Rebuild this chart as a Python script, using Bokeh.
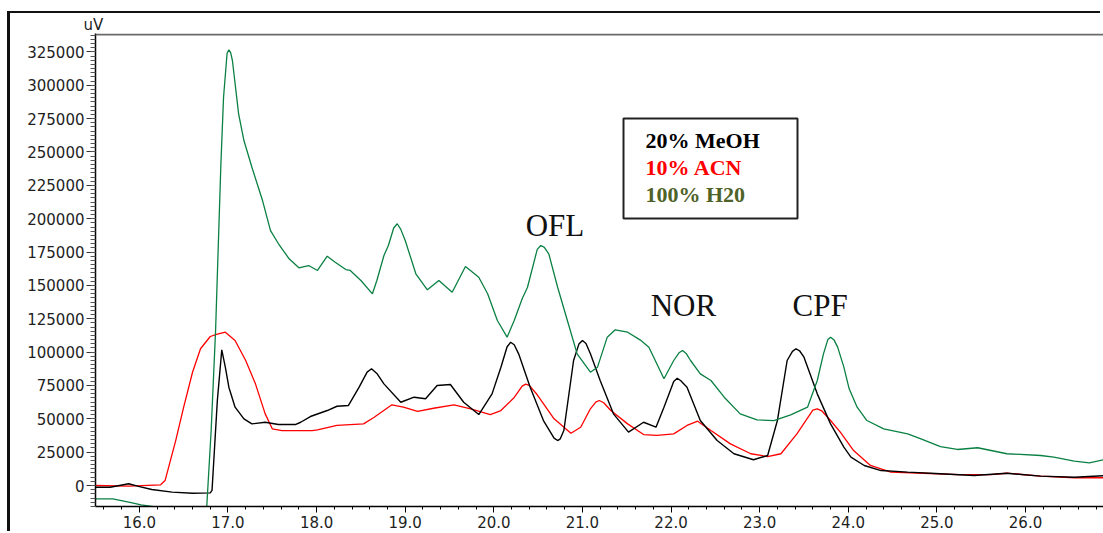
from bokeh.plotting import figure
from bokeh.models import (Range1d, SingleIntervalTicker, NumeralTickFormatter, LinearAxis,
                          BoxAnnotation, Label, Span, Title)
from bokeh.embed import file_html
from bokeh.resources import INLINE

# Retention time (min) and detector response (uV) for each eluent
t_meoh = [15.50, 15.67, 15.88, 15.99, 16.14, 16.37, 16.60, 16.80, 16.82, 16.88, 16.93, 16.97,
          17.01, 17.08, 17.18, 17.27, 17.42, 17.57, 17.76, 17.82, 17.93, 18.12, 18.23, 18.36,
          18.48, 18.57, 18.62, 18.68, 18.76, 18.95, 19.10, 19.23, 19.36, 19.51, 19.66, 19.83,
          19.98, 20.08, 20.15, 20.19, 20.23, 20.28, 20.41, 20.56, 20.68, 20.72, 20.75, 20.79,
          20.90, 20.96, 21.00, 21.04, 21.09, 21.20, 21.35, 21.52, 21.69, 21.83, 21.92, 22.03,
          22.07, 22.11, 22.18, 22.33, 22.52, 22.71, 22.93, 23.09, 23.20, 23.31, 23.37, 23.41,
          23.45, 23.50, 23.65, 23.80, 23.95, 24.03, 24.18, 24.37, 24.67, 25.04, 25.42, 25.79,
          26.17, 26.55, 26.88]
v_meoh = [-1300, -1300, 1300, -700, -3000, -5000, -5800, -5500, -3700, 63700, 101700, 88700,
          73700, 58700, 50000, 46200, 47400, 45700, 45700, 47400, 51700, 56200, 59400, 60000,
          73700, 85000, 87500, 84000, 76200, 62400, 66200, 65000, 75000, 75700, 62400, 53200,
          68700, 88700, 104000, 107400, 105500, 98700, 73700, 48700, 35500, 33700, 35000, 41200,
          93700, 106000, 108700, 106500, 98700, 78700, 53700, 40000, 47400, 43700, 58700, 78000,
          80400, 78500, 73700, 48700, 33700, 23800, 19300, 22500, 48700, 93700, 100500, 102500,
          101000, 96200, 68700, 46200, 28700, 21200, 15000, 11200, 10000, 8800, 7500, 9200,
          7000, 6200, 7300]

t_acn = [15.50, 15.88, 16.24, 16.29, 16.41, 16.50, 16.60, 16.69, 16.80, 16.88, 16.97, 17.08,
         17.20, 17.31, 17.42, 17.50, 17.61, 17.95, 18.01, 18.23, 18.53, 18.65, 18.85, 18.98,
         19.14, 19.32, 19.55, 19.74, 19.96, 20.08, 20.23, 20.32, 20.36, 20.40, 20.49, 20.68,
         20.87, 20.98, 21.09, 21.15, 21.19, 21.24, 21.32, 21.51, 21.69, 21.84, 22.03, 22.18,
         22.30, 22.45, 22.67, 22.90, 23.09, 23.24, 23.42, 23.60, 23.65, 23.70, 23.80, 23.91,
         24.06, 24.25, 24.48, 24.85, 25.23, 25.61, 25.79, 26.17, 26.55, 26.88]
v_acn = [0, -500, 500, 3700, 33700, 58700, 84900, 102500, 111700, 113500, 114900, 108700,
         93700, 76200, 53700, 42500, 41200, 41200, 41700, 45000, 46200, 51200, 60500, 58700,
         55500, 57900, 60500, 57500, 53200, 56200, 66000, 74500, 76000, 75000, 68000, 50000,
         39200, 43700, 57500, 62500, 63700, 62000, 56200, 46200, 38200, 37500, 38700, 45000,
         48200, 41200, 31200, 23800, 21700, 23800, 38700, 56500, 57500, 56000, 48700, 40000,
         26200, 15000, 10000, 9200, 8200, 8200, 9200, 7000, 5800, 5800]

t_h2o = [15.50, 15.70, 15.88, 16.02, 16.18, 16.50, 16.76, 16.81, 16.86, 16.92, 16.95, 16.99,
         17.01, 17.03, 17.05, 17.12, 17.18, 17.27, 17.39, 17.48, 17.57, 17.69, 17.80, 17.91,
         18.01, 18.12, 18.21, 18.33, 18.38, 18.50, 18.63, 18.68, 18.76, 18.81, 18.87, 18.91,
         18.95, 19.00, 19.12, 19.25, 19.38, 19.53, 19.68, 19.83, 19.93, 20.04, 20.15, 20.23,
         20.32, 20.38, 20.49, 20.53, 20.57, 20.62, 20.72, 20.83, 20.94, 21.09, 21.17, 21.28,
         21.37, 21.51, 21.65, 21.75, 21.92, 22.03, 22.09, 22.13, 22.17, 22.22, 22.33, 22.45,
         22.60, 22.78, 22.97, 23.16, 23.35, 23.54, 23.65, 23.72, 23.77, 23.80, 23.84, 23.88,
         23.95, 24.01, 24.10, 24.21, 24.40, 24.67, 24.82, 25.04, 25.23, 25.46, 25.79, 26.17,
         26.32, 26.55, 26.72, 26.88]
v_h2o = [-10000, -10000, -12500, -14500, -16000, -17000, -16300, 41000, 116000, 241000, 291000, 324000,
         326600, 324500, 318600, 278600, 258600, 238600, 213600, 191100, 181200, 169900, 163200, 164900,
         161200, 171900, 167400, 161900, 161200, 153700, 143700, 153700, 172400, 179900, 193000, 196200,
         192000, 183700, 158700, 146700, 153700, 144900, 164200, 156100, 143700, 123700, 111200, 123700,
         140000, 148600, 177000, 179900, 178500, 173700, 148600, 123700, 98700, 84900, 88700, 111200,
         116700, 114900, 109200, 103700, 80000, 93700, 99500, 101200, 99000, 93700, 83700, 78700,
         66200, 53700, 49200, 48700, 53000, 58700, 78700, 98700, 109500, 111200, 109000, 103700,
         88700, 72500, 58700, 48700, 42500, 38700, 35000, 29200, 27000, 28300, 23800, 22500,
         21200, 18200, 17000, 19300]

legend_names = ["20% MeOH", "10% ACN", "100% H20"]
legend_colors = ["#000000", "#ff0000", "#4f6228"]

peak_names = ["OFL", "NOR", "CPF"]
peak_label_t = [20.36, 21.77, 23.37]
peak_label_v = [194900, 134900, 134900]

# page geometry: the figure sits inside a dark outer frame
PAGE_W, PAGE_H = 1103, 533
OX, OY = 10, 13                   # figure offset inside the page
FL, FT, FB = 95, 33, 506          # frame left / top / bottom on the page
X0, X1 = 15.505, 26.88
Y0, Y1 = -15742, 338830


def cx(px):
    return X0 + (px - FL) * (X1 - X0) / (PAGE_W - FL)


def cy(py):
    return Y0 + (FB - py) * (Y1 - Y0) / (FB - FT)


p = figure(width=PAGE_W - OX, height=PAGE_H - OY, output_backend="svg", toolbar_location=None,
           x_range=Range1d(X0, X1), y_range=Range1d(Y0, Y1),
           x_axis_type=None, y_axis_type=None,
           min_border_left=FL - OX, min_border_right=0, min_border_top=FT - OY,
           min_border_bottom=PAGE_H - FB)
p.outline_line_color = None
p.background_fill_color = "white"
p.border_fill_color = "white"
p.styles = {"margin-left": f"{OX}px", "margin-top": f"{OY}px",
            "box-shadow": "-3px -2px 0 0 #111111"}

# unit label above the value axis
p.title = Title(text="uV", align="left", offset=-12, standoff=0, vertical_align="bottom",
                text_font="DejaVu Sans", text_font_size="15px", text_font_style="normal",
                text_color="#1e1e1e")

tick_font = dict(major_label_text_font="DejaVu Sans", major_label_text_font_size="15px",
                 major_label_text_color="#1e1e1e")

xaxis = LinearAxis(ticker=SingleIntervalTicker(interval=1, num_minor_ticks=5),
                   formatter=NumeralTickFormatter(format="0.0"),
                   axis_line_color="black", axis_line_width=1.5,
                   major_tick_in=0, major_tick_out=6, minor_tick_in=0, minor_tick_out=3,
                   major_tick_line_color="black", minor_tick_line_color="black",
                   major_label_standoff=3, **tick_font)
p.add_layout(xaxis, "below")

yaxis = LinearAxis(ticker=SingleIntervalTicker(interval=25000, num_minor_ticks=8),
                   formatter=NumeralTickFormatter(format="0"),
                   axis_line_color="black", axis_line_width=1.5,
                   major_tick_in=0, major_tick_out=9, minor_tick_in=0, minor_tick_out=5,
                   major_tick_line_color="#333333", minor_tick_line_color="#555555",
                   major_label_standoff=2, **tick_font)
p.add_layout(yaxis, "left")

# grey top edge of the plotting area
p.add_layout(Span(location=cy(34), dimension="width", line_color="#6a6a6a", line_width=2))

# chromatogram traces
p.line(t_acn, v_acn, line_color="#ff0000", line_width=1.3)
p.line(t_meoh, v_meoh, line_color="#000000", line_width=1.4)
p.line(t_h2o, v_h2o, line_color="#0a8043", line_width=1.3)

# legend box
p.add_layout(BoxAnnotation(left=cx(623), right=cx(797), top=cy(118), bottom=cy(218),
                           fill_color="white", fill_alpha=1, line_color="#222222",
                           line_alpha=1, line_width=2))
for i, (name, col) in enumerate(zip(legend_names, legend_colors)):
    p.add_layout(Label(x=cx(645), y=cy(140 + 27 * i), text=name,
                       text_font="Liberation Serif", text_font_style="bold",
                       text_font_size="22px", text_color=col, text_baseline="alphabetic"))

# peak names
for name, t, v in zip(peak_names, peak_label_t, peak_label_v):
    p.add_layout(Label(x=t, y=v, text=name, text_font="Liberation Serif",
                       text_font_size="31px", text_color="#111111", text_baseline="alphabetic"))

open("out.html", "w").write(file_html(p, INLINE))
